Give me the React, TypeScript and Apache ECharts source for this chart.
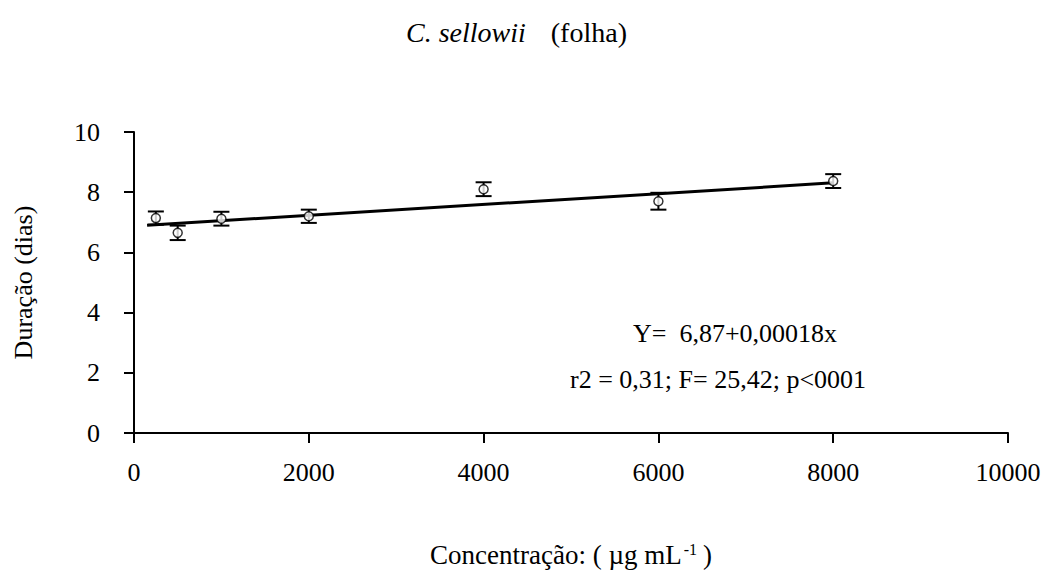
import React, { useEffect, useRef } from "react";
import * as echarts from "echarts";

const concentrations = [250, 500, 1000, 2000, 4000, 6000, 8000];
const durations = [7.14, 6.65, 7.12, 7.2, 8.1, 7.7, 8.37];
const errors = [0.22, 0.24, 0.23, 0.22, 0.23, 0.28, 0.23];
const fitX = [150, 8000];
const fitY = [6.9, 8.31];
const equationLines = ["Y=  6,87+0,00018x", "r2 = 0,31; F= 25,42; p<0001"];
const titleItalic = "C. sellowii";
const titleRest = "(folha)";
const yAxisName = "Duração (dias)";
const xAxisNameMain = "Concentração: ( µg mL";
const xAxisNameSup = "-1";
const xAxisNameEnd = ")";

const FONT = "'Liberation Serif', 'DejaVu Serif', serif";
const FS = 26;

export default function App() {
  const ref = useRef<HTMLDivElement>(null);
  useEffect(() => {
    if (!ref.current) return;
    const chart = echarts.init(ref.current, null, { renderer: "svg" });
    const points = concentrations.map((x, i) => [x, durations[i]]);
    const bars = concentrations.map((x, i) => [x, durations[i] - errors[i], durations[i] + errors[i]]);
    const fit = fitX.map((x, i) => [x, fitY[i]]);
    chart.setOption({
      animation: false,
      backgroundColor: "#fff",
      title: {
        text: `{i|${titleItalic}}     {n|${titleRest}}`,
        left: 401,
        top: 13,
        textStyle: {
          fontWeight: "normal",
          rich: {
            i: { fontFamily: FONT, fontSize: 28, fontStyle: "italic", fontWeight: "normal", color: "#000" },
            n: { fontFamily: FONT, fontSize: 28, fontWeight: "normal", color: "#000" },
          },
        },
      },
      grid: { left: 134, right: 41, top: 132, bottom: 151, containLabel: false },
      xAxis: {
        type: "value",
        min: 0,
        max: 10000,
        interval: 2000,
        name: `{n|${xAxisNameMain}}{s|${xAxisNameSup}}{n|${xAxisNameEnd}}`,
        nameLocation: "middle",
        nameGap: 108,
        nameTextStyle: {
          rich: {
            n: { fontFamily: FONT, fontSize: 27, color: "#000" },
            s: { fontFamily: FONT, fontSize: 16, color: "#000", verticalAlign: "top", padding: [0, 6, 12, 2] },
          },
        },
        axisLine: { show: true, onZero: false, lineStyle: { color: "#000", width: 2 } },
        axisTick: { show: true, inside: false, length: 10, lineStyle: { color: "#000", width: 2 } },
        axisLabel: {
          margin: 26,
          fontFamily: FONT,
          fontSize: FS,
          color: "#000",
          formatter: (v: number) => String(v),
        },
        splitLine: { show: false },
      },
      yAxis: {
        type: "value",
        min: 0,
        max: 10,
        interval: 2,
        name: yAxisName,
        nameLocation: "middle",
        nameGap: 98,
        nameTextStyle: { fontFamily: FONT, fontSize: FS, color: "#000" },
        axisLine: { show: true, onZero: false, lineStyle: { color: "#000", width: 2 } },
        axisTick: { show: true, inside: false, length: 10, lineStyle: { color: "#000", width: 2 } },
        axisLabel: { margin: 34, fontFamily: FONT, fontSize: FS, color: "#000" },
        splitLine: { show: false },
      },
      graphic: [
        {
          type: "text",
          left: 633,
          top: 320,
          style: { text: equationLines[0], fontFamily: FONT, fontSize: FS, fill: "#000" },
        },
        {
          type: "text",
          left: 570,
          top: 366,
          style: { text: equationLines[1], fontFamily: FONT, fontSize: FS, fill: "#000" },
        },
      ],
      series: [
        {
          type: "line",
          data: fit,
          symbol: "none",
          lineStyle: { color: "#000", width: 3 },
          z: 2,
        },
        {
          type: "custom",
          data: bars,
          z: 3,
          renderItem: (params: any, api: any) => {
            const x = api.value(0);
            const lo = api.coord([x, api.value(1)]);
            const hi = api.coord([x, api.value(2)]);
            const hw = 8;
            const st = { stroke: "#000", lineWidth: 2 };
            return {
              type: "group",
              children: [
                { type: "line", shape: { x1: lo[0], y1: lo[1], x2: hi[0], y2: hi[1] }, style: st },
                { type: "line", shape: { x1: lo[0] - hw, y1: lo[1], x2: lo[0] + hw, y2: lo[1] }, style: st },
                { type: "line", shape: { x1: hi[0] - hw, y1: hi[1], x2: hi[0] + hw, y2: hi[1] }, style: st },
              ],
            };
          },
        },
        {
          type: "scatter",
          data: points,
          symbol: "circle",
          symbolSize: 9,
          itemStyle: { color: "#fff", borderColor: "#000", borderWidth: 1.5 },
          z: 4,
        },
      ],
    });
    return () => chart.dispose();
  }, []);
  return <div ref={ref} style={{ position: "fixed", left: 0, top: 0, width: 1049, height: 584 }} />;
}
